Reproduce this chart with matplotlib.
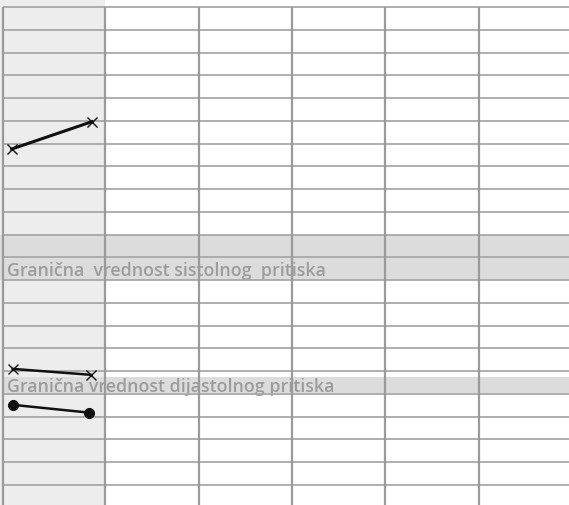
import matplotlib
matplotlib.use("Agg")
import matplotlib.pyplot as plt
import numpy as np

# Blood pressure record sheet: one reference column plus five day columns
col_edges = [0, 1, 1.917, 2.833, 3.75, 4.667, 5.583]
row_values = list(range(200, 85, -5))          # mmHg grid, one row = 5 mmHg

# Limit bands
sys_band = (140, 150)
dia_band = (115.2, 118.7)
sys_label = "Granična  vrednost sistolnog  pritiska"
dia_label = "Granična vrednost dijastolnog pritiska"

# Sample readings shown in the reference column
sys_x = [0.085, 0.87]
sistolni = [168.8, 174.8]
dia_x = [0.095, 0.86]
dijastolni = [120.5, 119.2]
puls_x = [0.098, 0.84]
puls = [112.6, 110.9]

GRID = "#a8a8a8"
VGRID = "#9a9a9a"
COL_FILL = "#ededed"
BAND_FILL = "#dcdcdd"
TEXT = "#9c9c9c"

fig = plt.figure(figsize=(5.69, 5.06), dpi=100)
ax = fig.add_axes([0, 0, 1, 1])
xmin, xmax = -0.03, 5.55
ymin, ymax = 90.6, 201.76
ax.set_xlim(xmin, xmax)
ax.set_ylim(ymin, ymax)
ax.axis("off")

# reference column shading (including the header strip above the grid)
ax.axvspan(xmin, col_edges[1], color=COL_FILL, zorder=0, lw=0)

# limit bands
ax.axhspan(*sys_band, color=BAND_FILL, zorder=1, lw=0)
ax.axhspan(*dia_band, xmin=(col_edges[0] - xmin) / (xmax - xmin),
           color=BAND_FILL, zorder=1, lw=0)

# band labels (the rules are drawn over them)
ax.text(0.04, 141.2, sys_label, color=TEXT, fontsize=12.8, family="Open Sans",
        fontweight="semibold", va="baseline", ha="left", zorder=2)
ax.text(0.04, 115.6, dia_label, color=TEXT, fontsize=12.8, family="Open Sans",
        fontweight="semibold", va="baseline", ha="left", zorder=2)

# horizontal rules
for v in row_values:
    ax.plot([col_edges[0], xmax], [v, v], color=GRID, lw=1.3, zorder=3,
            solid_capstyle="butt")

# vertical rules
for e in col_edges[:-1]:
    ax.plot([e, e], [ymin, row_values[0]], color=VGRID, lw=1.6, zorder=3,
            solid_capstyle="butt")

# readings
ax.plot(sys_x, sistolni, color="#111111", lw=2.2, marker="x", ms=6.5, mew=1.0, zorder=5)
ax.plot(dia_x, dijastolni, color="#111111", lw=1.8, marker="x", ms=6.5, mew=1.0, zorder=5)
ax.plot(puls_x, puls, color="#111111", lw=1.8, marker="o", ms=7, zorder=5)

fig.savefig("out.png", dpi=100)
